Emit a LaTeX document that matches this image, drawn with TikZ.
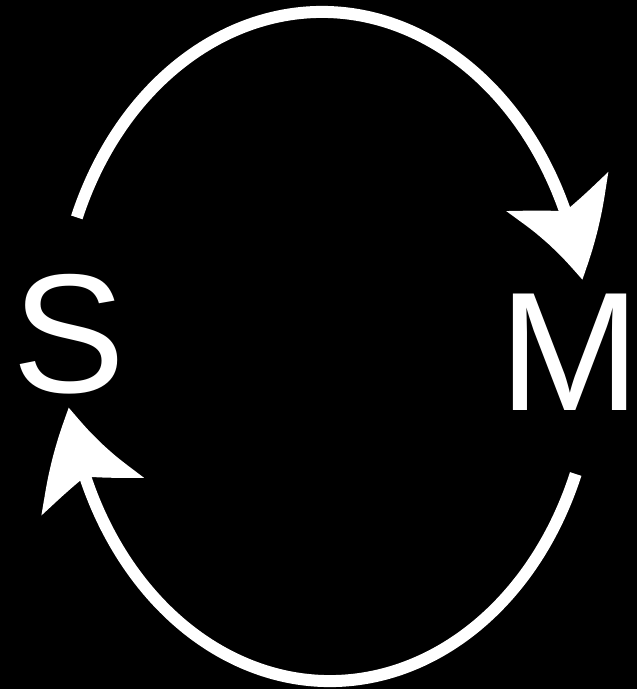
\documentclass[tikz,border=0pt]{standalone}
\usepackage{fontspec}
\setmainfont{Liberation Sans}
\usetikzlibrary{arrows.meta, bending}

\begin{document}
\begin{tikzpicture}[
    x=0.75pt, y=0.75pt,
    letter/.style={text=white, inner sep=0pt, font=\fontsize{127}{127}\selectfont},
    cycle/.style={draw=white, line width=9pt,
                -{Stealth[length=70pt, width=80pt, inset=16pt, bend]}}
]
\fill[black] (0,0) rectangle (637,689);
\useasboundingbox (0,0) rectangle (637,689);

\node[letter] (S) at (68.5,354.5) {S};
\node[letter] (M) at (570.5,336.5) {M};

\coordinate (top-start) at (76.8,471.6);
\coordinate (bot-start) at (575.7,215);

\draw[cycle] (top-start) arc[start angle=157.7, end angle=11, x radius=265, y radius=331];
\draw[cycle] (bot-start) arc[start angle=-22, end angle=-170, x radius=265, y radius=331];
\end{tikzpicture}
\end{document}
